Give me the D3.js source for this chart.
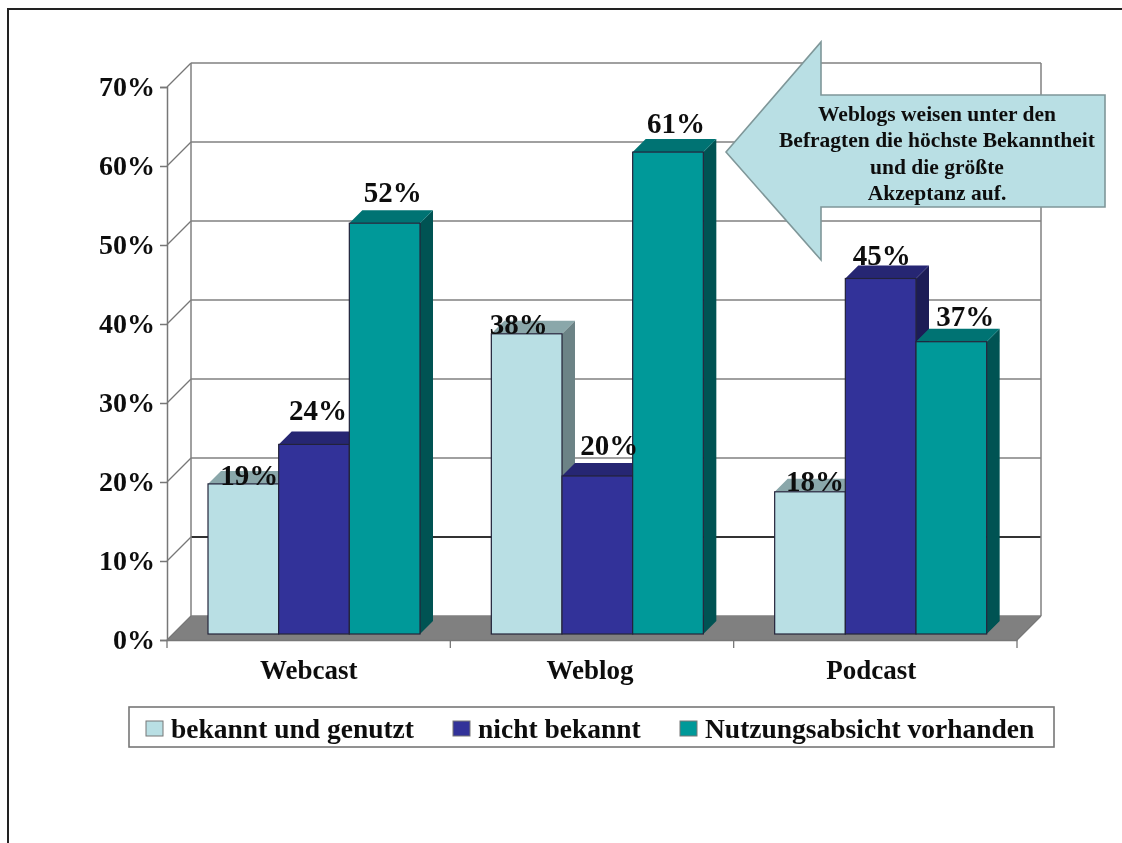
<!DOCTYPE html>
<html>
<head>
<meta charset="utf-8">
<script src="https://cdn.jsdelivr.net/npm/d3@7"></script>
<style>
html, body { margin: 0; padding: 0; background: #fff; }
svg { display: block; }
text { font-family: "Liberation Serif", serif; font-weight: bold; fill: #111; }
</style>
</head>
<body>
<svg id="chart" width="1122" height="843"></svg>
<script>
var categories = ["Webcast", "Weblog", "Podcast"];
var seriesNames = ["bekannt und genutzt", "nicht bekannt", "Nutzungsabsicht vorhanden"];
var known = [19, 38, 18];
var unknown = [24, 20, 45];
var intent = [52, 61, 37];
var yTicks = [0, 10, 20, 30, 40, 50, 60, 70];
var noteLines = ["Weblogs weisen unter den", "Befragten die höchste Bekanntheit", "und die größte", "Akzeptanz auf."];

var values = [known, unknown, intent];
var front = ["#b9dfe4", "#333399", "#009999"];
var top3d = ["#8aa7aa", "#262673", "#007373"];
var side = ["#6c8386", "#1c1c56", "#005353"];

var svg = d3.select("#chart");
var g = svg.append("g").attr("filter", "url(#soft)");

var soft = svg.append("defs").append("filter").attr("id", "soft")
  .attr("filterUnits", "userSpaceOnUse")
  .attr("x", 0).attr("y", 0).attr("width", 1122).attr("height", 843);
soft.append("feGaussianBlur").attr("stdDeviation", 0.7);

var depth = 24;      // depth of the floor
var barDepth = 13;   // depth of one bar
var barShift = 6;    // bars stand a bit behind the front edge

var x = d3.scaleBand().domain(categories).range([167, 1017]);
var y = d3.scaleLinear().domain([0, 70]).range([640, 87]);
var inner = d3.scaleBand().domain(d3.range(3)).range([0, 212]);

// frame of the page, open on the right and at the bottom
g.append("path").attr("d", "M8,843V9H1122").attr("fill", "none")
  .attr("stroke", "#222").attr("stroke-width", 2);

// floor
g.append("polygon")
  .attr("points", [[167, y(0)], [1017, y(0)], [1017 + depth, y(0) - depth], [167 + depth, y(0) - depth]].join(" "))
  .attr("fill", "#808080");

// back wall and side wall grid
g.selectAll("line.back").data(yTicks).enter().append("line").attr("class", "back")
  .attr("x1", 167 + depth).attr("x2", 1017 + depth)
  .attr("y1", function(d) { return y(d) - depth; })
  .attr("y2", function(d) { return y(d) - depth; })
  .attr("stroke", function(d) { return d == 10 ? "#333" : "#808080"; })
  .attr("stroke-width", function(d) { return d == 10 ? 2 : 1.5; });
g.selectAll("line.wall").data(yTicks).enter().append("line").attr("class", "wall")
  .attr("x1", 167).attr("x2", 167 + depth)
  .attr("y1", function(d) { return y(d); })
  .attr("y2", function(d) { return y(d) - depth; })
  .attr("stroke", "#777").attr("stroke-width", 1.2);
g.selectAll("line.vert").data([167 + depth, 1017 + depth]).enter().append("line").attr("class", "vert")
  .attr("x1", function(d) { return d; }).attr("x2", function(d) { return d; })
  .attr("y1", y(70) - depth).attr("y2", y(0) - depth)
  .attr("stroke", "#808080").attr("stroke-width", 1.5);
g.append("line").attr("x1", 1017).attr("x2", 1017 + depth).attr("y1", y(0)).attr("y2", y(0) - depth)
  .attr("stroke", "#777").attr("stroke-width", 1.2);

// axes
var yAxis = d3.axisLeft(y).tickValues(yTicks).tickSizeOuter(0).tickSize(7).tickPadding(5)
  .tickFormat(function(d) { return d + "%"; });
var yG = g.append("g").attr("transform", "translate(167,0)").call(yAxis);
yG.selectAll("path,line").attr("stroke", "#777").attr("stroke-width", 1.5);
yG.selectAll("text").attr("font-size", 28).style("font-family", "Liberation Serif").style("font-weight", "bold");

var xAxis = d3.axisBottom(x).tickSize(0).tickPadding(20);
var xG = g.append("g").attr("transform", "translate(0," + y(0) + ")").call(xAxis);
xG.select("path").attr("stroke", "#777").attr("stroke-width", 1.5);
xG.selectAll("text").attr("font-size", 27).attr("dx", function(d, i) { return -2 * i; })
  .style("font-family", "Liberation Serif").style("font-weight", "bold");
g.selectAll("line.cut").data(d3.range(4)).enter().append("line").attr("class", "cut")
  .attr("x1", function(d) { return 167 + d * x.step(); })
  .attr("x2", function(d) { return 167 + d * x.step(); })
  .attr("y1", y(0)).attr("y2", y(0) + 8)
  .attr("stroke", "#777").attr("stroke-width", 1.3);

// bars
var bars = [];
categories.forEach(function(c, i) {
  values.forEach(function(v, s) { bars.push({cat: c, i: i, s: s, v: v[i]}); });
});
var barG = g.selectAll("g.bar").data(bars).enter().append("g").attr("class", "bar");
function bx(d) { return x(d.cat) + 41 + inner(d.s); }
function by(v) { return y(v) - barShift; }
barG.append("polygon").attr("fill", function(d) { return side[d.s]; })
  .attr("points", function(d) {
    var r = bx(d) + inner.bandwidth();
    return [[r, by(d.v)], [r + barDepth, by(d.v) - barDepth], [r + barDepth, by(0) - barDepth], [r, by(0)]].join(" ");
  });
barG.append("polygon").attr("fill", function(d) { return top3d[d.s]; })
  .attr("points", function(d) {
    var l = bx(d), r = l + inner.bandwidth();
    return [[l, by(d.v)], [r, by(d.v)], [r + barDepth, by(d.v) - barDepth], [l + barDepth, by(d.v) - barDepth]].join(" ");
  });
barG.append("rect")
  .attr("x", bx).attr("y", function(d) { return by(d.v); })
  .attr("width", inner.bandwidth())
  .attr("height", function(d) { return by(0) - by(d.v); })
  .attr("fill", function(d) { return front[d.s]; })
  .attr("stroke", "#23233a").attr("stroke-width", 1.2);

// value labels sit where they were dragged to in the original, so each has its own nudge
var labelNudge = [
  [[6, 1], [4, -24], [8, -21]],
  [[-8, 0], [12, -21], [8, -19]],
  [[5, -1], [1, -14], [14, -16]]
];
g.selectAll("text.val").data(bars).enter().append("text").attr("class", "val")
  .attr("x", function(d) { return bx(d) + inner.bandwidth() / 2 + labelNudge[d.i][d.s][0]; })
  .attr("y", function(d) { return by(d.v) + labelNudge[d.i][d.s][1]; })
  .attr("text-anchor", "middle").attr("font-size", 29)
  .text(function(d) { return d.v + "%"; });

// arrow note
g.append("polygon")
  .attr("points", "726,152 821,42 821,95 1105,95 1105,207 821,207 821,260")
  .attr("fill", "#b9dfe4").attr("stroke", "#7f9799").attr("stroke-width", 1.6);
g.selectAll("text.note").data(noteLines).enter().append("text").attr("class", "note")
  .attr("x", 937)
  .attr("y", function(d, i) { return 121 + i * 26.3; })
  .attr("text-anchor", "middle").attr("font-size", 21.5)
  .text(function(d) { return d; });

// legend
g.append("rect").attr("x", 129).attr("y", 707).attr("width", 925).attr("height", 40)
  .attr("fill", "#fff").attr("stroke", "#777").attr("stroke-width", 1.6);
var legendX = d3.scaleOrdinal().domain(d3.range(3)).range([146, 453, 680]);
var legend = g.selectAll("g.leg").data(seriesNames).enter().append("g").attr("class", "leg")
  .attr("transform", function(d, i) { return "translate(" + legendX(i) + ",0)"; });
legend.append("rect").attr("y", 721).attr("width", 17).attr("height", 15)
  .attr("fill", function(d, i) { return front[i]; }).attr("stroke", "#777");
legend.append("text").attr("x", 25).attr("y", 738).attr("font-size", 27.5)
  .text(function(d) { return d; });
</script>
</body>
</html>
